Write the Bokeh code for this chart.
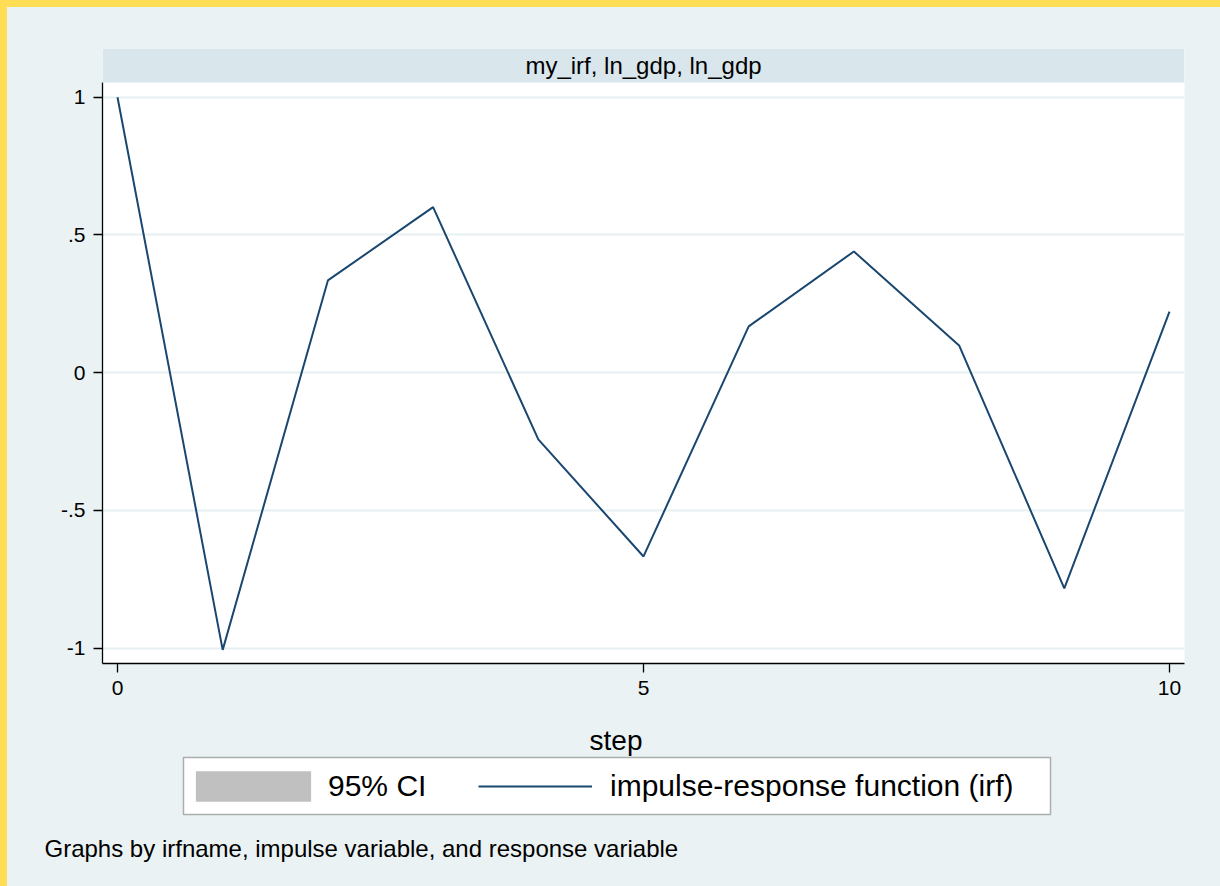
from bokeh.plotting import figure
from bokeh.layouts import column, row
from bokeh.models import Range1d, FixedTicker, BoxAnnotation, Label, Legend, LegendItem, Spacer
from bokeh.embed import file_html
from bokeh.resources import INLINE

nan = float("nan")

# ---- data ----
steps = [0, 1, 2, 3, 4, 5, 6, 7, 8, 9, 10]
irf = [1.0, -1.006, 0.335, 0.601, -0.242, -0.667, 0.168, 0.440, 0.099, -0.783, 0.222]
# the 95% CI is not available in the reference graph (only its legend key shows)
ci_lower = [nan] * 11
ci_upper = [nan] * 11
panel_title = "my_irf, ln_gdp, ln_gdp"
x_label = "step"
x_ticks = [0, 5, 10]
y_ticks = [-1, -0.5, 0, 0.5, 1]
y_tick_labels = ["-1", "-.5", "0", ".5", "1"]
legend_labels = ["95% CI", "impulse-response function (irf)"]
note = "Graphs by irfname, impulse variable, and response variable"

FONT = "Liberation Sans"
BG = "#EAF2F3"
BAND = "#D9E6EC"
NAVY = "#1A476F"
YELLOW = "#FFDD55"
GRAY = "#C0C0C0"

# page geometry (pixels), used to turn the layout into ranges
STRIP = 7
W, H = 1220, 886
x0_px, x10_px = 117.0, 1169.0
y1_px, ym1_px = 96.7, 647.7
fl, fr, band_top, ft, fb = 102, 1184, 48, 82, 663
H1 = 705  # height of main figure canvas
xs = (x10_px - x0_px) / 10.0
ys = (ym1_px - y1_px) / 2.0
def xd(px):
    return (px - x0_px) / xs
def yd(py):
    return 1 - (py - y1_px) / ys

W1 = W - STRIP
p = figure(width=W1, height=H1, output_backend="svg", toolbar_location=None, title=None,
           x_range=Range1d(xd(fl), xd(fr)), y_range=Range1d(yd(fb), yd(band_top)),
           min_border_left=fl - STRIP, min_border_right=W - fr,
           min_border_top=band_top - STRIP, min_border_bottom=H1 - (fb - STRIP))
p.background_fill_color = "white"
p.border_fill_color = BG
p.outline_line_color = None

ln = p.line(steps, irf, line_color=NAVY, line_width=2)

for ax in (p.xaxis[0], p.yaxis[0]):
    ax.axis_line_color = "black"
    ax.axis_line_width = 1.3
    ax.major_tick_line_color = "black"
    ax.major_tick_line_width = 1.3
    ax.major_tick_out = 9
    ax.major_tick_in = 0
    ax.minor_tick_line_color = None
    ax.major_label_text_font = FONT
    ax.major_label_text_font_size = "21px"
    ax.major_label_text_color = "black"
p.xaxis.ticker = FixedTicker(ticks=x_ticks)
p.yaxis.ticker = FixedTicker(ticks=y_ticks)
p.yaxis.bounds = (yd(fb), yd(ft))
p.yaxis.major_label_overrides = {t: l for t, l in zip(y_ticks, y_tick_labels)}
p.yaxis.major_label_orientation = "horizontal"
p.xaxis.major_label_standoff = 8
p.yaxis.major_label_standoff = 8

p.xgrid.grid_line_color = None
p.ygrid.ticker = FixedTicker(ticks=y_ticks)
p.ygrid.grid_line_color = "#E6EFF2"
p.ygrid.grid_line_width = 2

# title band (inside the frame, above the data area)
p.add_layout(BoxAnnotation(bottom=yd(ft), fill_color=BAND, fill_alpha=1, line_color=None))
p.add_layout(Label(x=xd((fl + fr) / 2), y=yd((band_top + ft) / 2), text=panel_title,
                   text_align="center", text_baseline="middle", text_font=FONT,
                   text_font_size="24px", text_color="black"))

# ---- lower figure: axis title, legend, note (page-pixel coordinates) ----
top2 = STRIP + H1
p2 = figure(width=W1, height=H - top2, output_backend="svg", toolbar_location=None, title=None,
            x_range=Range1d(STRIP, W), y_range=Range1d(H, top2),
            x_axis_location=None, y_axis_location=None,
            min_border=0, min_border_left=0, min_border_right=0,
            min_border_top=0, min_border_bottom=0)
p2.background_fill_color = BG
p2.border_fill_color = BG
p2.outline_line_color = None
p2.grid.visible = False

# legend keys (these draw nothing: the CI values are missing)
ci_key = p2.varea(x=steps, y1=ci_lower, y2=ci_upper, fill_color=GRAY)
ln_key = p2.line(x=steps, y=ci_lower, line_color=NAVY, line_width=2)

p2.add_layout(Label(x=615.5, y=740, text=x_label, text_align="center",
                    text_baseline="alphabetic", text_font=FONT, text_font_size="28px",
                    text_color="black"))
p2.add_layout(Label(x=44, y=848, text=note, text_align="left",
                    text_baseline="alphabetic", text_font=FONT, text_font_size="24px",
                    text_color="black"))

# legend frame
p2.add_layout(BoxAnnotation(left=183, right=1050, top=757, bottom=814,
                            fill_color="white", fill_alpha=1,
                            line_color="black", line_width=1.5))

common = dict(orientation="horizontal", padding=0, margin=0, spacing=0,
              border_line_color=None, background_fill_alpha=0,
              label_text_font=FONT, label_text_font_size="30px",
              label_text_color="black", label_width=10)
# area key: Bokeh insets area keys by 10 %, so the key area is enlarged to ~1/0.8
gw1, gh1 = 144, 38
kx1 = 181
leg1 = Legend(items=[LegendItem(label=legend_labels[0], renderers=[ci_key])],
              location=(kx1 - STRIP, H - (786 + gh1 // 2)),
              glyph_width=gw1, glyph_height=gh1, label_height=gh1,
              label_standoff=328 - (kx1 + gw1), **common)
gh2 = 38
leg2 = Legend(items=[LegendItem(label=legend_labels[1], renderers=[ln_key])],
              location=(478 - STRIP, H - (786 + gh2 // 2)),
              glyph_width=114, glyph_height=gh2, label_height=gh2,
              label_standoff=18, **common)
p2.add_layout(leg1)
p2.add_layout(leg2)

layout = column(
    Spacer(width=W, height=STRIP, styles={"background-color": YELLOW}),
    row(Spacer(width=STRIP, height=H - STRIP, styles={"background-color": YELLOW}),
        column(p, row(p2), styles={"background-color": BG})),
)

open("out.html", "w").write(file_html(layout, INLINE))
